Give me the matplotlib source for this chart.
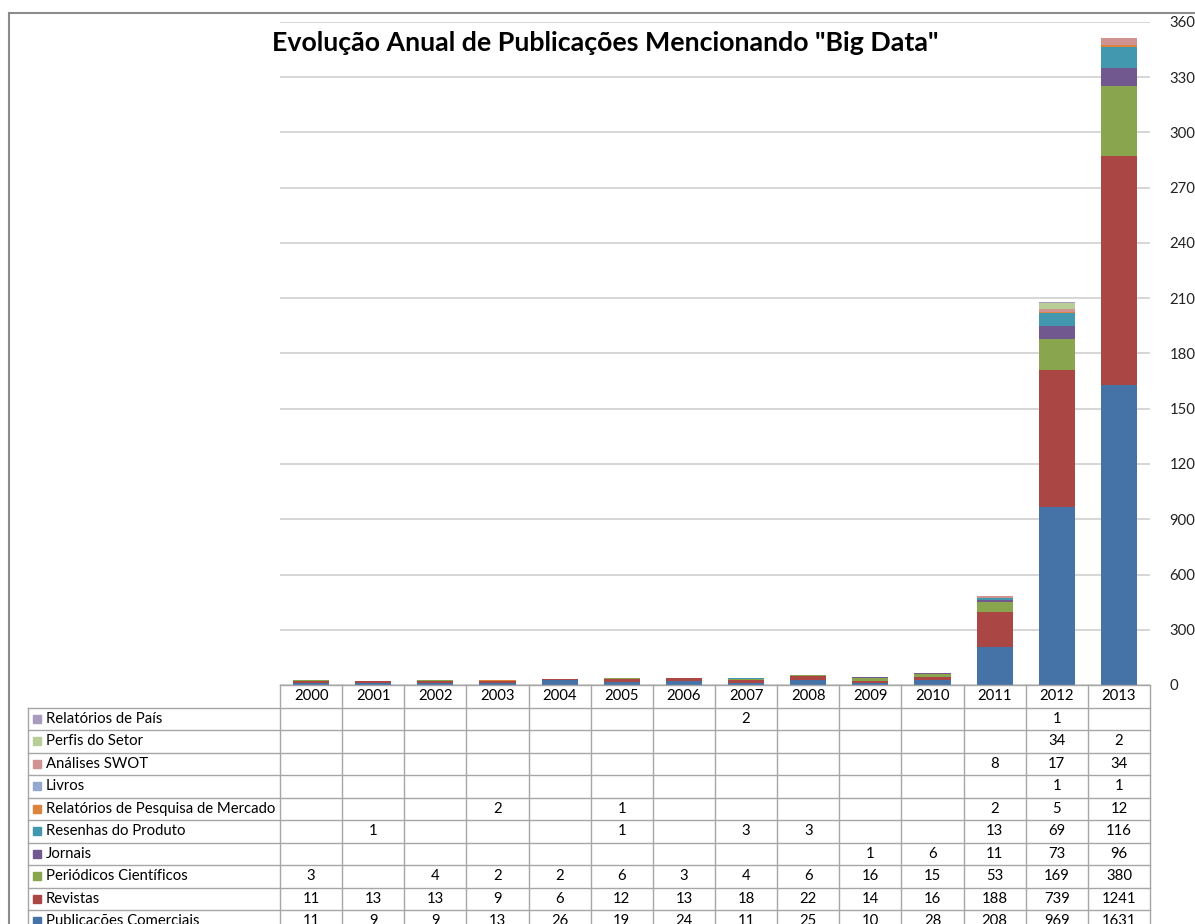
import numpy as np
import matplotlib
matplotlib.use("Agg")
import matplotlib.pyplot as plt
from matplotlib.patches import Rectangle

plt.rcParams['font.family'] = ['Lato', 'DejaVu Sans']

anos = [str(a) for a in range(2000, 2014)]

# series, from the bottom of the stack upwards
series_nomes = [
    "Publicações Comerciais",
    "Revistas",
    "Periódicos Científicos",
    "Jornais",
    "Resenhas do Produto",
    "Relatórios de Pesquisa de Mercado",
    "Livros",
    "Análises SWOT",
    "Perfis do Setor",
    "Relatórios de País",
]
publicacoes_comerciais = [11, 9, 9, 13, 26, 19, 24, 11, 25, 10, 28, 208, 969, 1631]
revistas = [11, 13, 13, 9, 6, 12, 13, 18, 22, 14, 16, 188, 739, 1241]
periodicos = [3, None, 4, 2, 2, 6, 3, 4, 6, 16, 15, 53, 169, 380]
jornais = [None, None, None, None, None, None, None, None, None, 1, 6, 11, 73, 96]
resenhas = [None, 1, None, None, None, 1, None, 3, 3, None, None, 13, 69, 116]
pesquisa_mercado = [None, None, None, 2, None, 1, None, None, None, None, None, 2, 5, 12]
livros = [None, None, None, None, None, None, None, None, None, None, None, None, 1, 1]
swot = [None, None, None, None, None, None, None, None, None, None, None, 8, 17, 34]
perfis = [None, None, None, None, None, None, None, None, None, None, None, None, 34, 2]
relatorios_pais = [None, None, None, None, None, None, None, 2, None, None, None, None, 1, None]

series_valores = [publicacoes_comerciais, revistas, periodicos, jornais, resenhas,
                  pesquisa_mercado, livros, swot, perfis, relatorios_pais]
cores = ["#4572A7", "#AA4643", "#89A54E", "#71588F", "#4198AF",
         "#DB843D", "#93A9CF", "#D19392", "#B9CD96", "#A99BBD"]

W, H = 1195, 924
fig = plt.figure(figsize=(W / 100, H / 100), dpi=100)

# chart area border
fig.add_artist(plt.Line2D([9 / W, 9 / W], [0, 1 - 13 / H], color="#8C8C8C", lw=1.5))
fig.add_artist(plt.Line2D([9 / W, 1], [1 - 13 / H, 1 - 13 / H], color="#8C8C8C", lw=1.5))

# plot area
px_left, px_right, px_top, px_bottom = 280, 1150, 22, 685
ax = fig.add_axes([px_left / W, 1 - px_bottom / H, (px_right - px_left) / W, (px_bottom - px_top) / H])
x = np.arange(len(anos))
base = np.zeros(len(anos))
for nome, vals, cor in zip(series_nomes, series_valores, cores):
    v = np.array([0 if a is None else a for a in vals], dtype=float)
    ax.bar(x, v, 0.58, bottom=base, color=cor, edgecolor="none", zorder=3)
    base += v

ax.set_xlim(-0.5, len(anos) - 0.5)
ax.set_ylim(0, 3600)
ax.set_yticks(range(0, 3601, 300))
ax.yaxis.tick_right()
ax.tick_params(axis="y", length=0, labelsize=10.7, pad=14, labelcolor="#222222")
ax.set_xticks([])
ax.grid(axis="y", color="#CFCFCF", lw=1.2, zorder=0)
for s in ax.spines.values():
    s.set_visible(False)

fig.text(605 / W, 1 - 43 / H, 'Evolução Anual de Publicações Mencionando "Big Data"',
         ha="center", va="center", fontsize=19.3, fontweight="bold")

# data table below the plot
col_px = (px_right - px_left) / len(anos)
tab_left_px = 28
row_px = 22.5
n_rows = len(series_nomes) + 1
left_edge = -0.5 - (px_left - tab_left_px) / col_px
tab = fig.add_axes([tab_left_px / W, 1 - (px_bottom + row_px * n_rows) / H,
                    (px_right - tab_left_px) / W, row_px * n_rows / H])
tab.set_xlim(left_edge, len(anos) - 0.5)
tab.set_ylim(n_rows, 0)
tab.axis("off")

linha = dict(color="#A6A6A6", lw=1, clip_on=False)
tab.plot([-0.5, len(anos) - 0.5], [0, 0], **linha)
for r in range(1, n_rows + 1):
    tab.plot([left_edge, len(anos) - 0.5], [r, r], **linha)
for c in range(len(anos) + 1):
    tab.plot([c - 0.5, c - 0.5], [0, n_rows], **linha)
tab.plot([left_edge, left_edge], [1, n_rows], **linha)

fs = 10.7
for i, ano in enumerate(anos):
    tab.text(i, 0.5, ano, ha="center", va="center", fontsize=fs, clip_on=False)

px2x = lambda px: left_edge + (px - tab_left_px) / col_px
for r, k in enumerate(range(len(series_nomes) - 1, -1, -1), start=1):
    tab.add_patch(Rectangle((px2x(33), r + 0.5 - 4 / row_px), 8 / col_px, 8 / row_px,
                            color=cores[k], clip_on=False))
    tab.text(px2x(46), r + 0.5, series_nomes[k], ha="left", va="center", fontsize=fs, clip_on=False)
    for i, v in enumerate(series_valores[k]):
        if v is not None:
            tab.text(i, r + 0.5, str(v), ha="center", va="center", fontsize=fs, clip_on=False)

fig.savefig("out.png", dpi=100)
